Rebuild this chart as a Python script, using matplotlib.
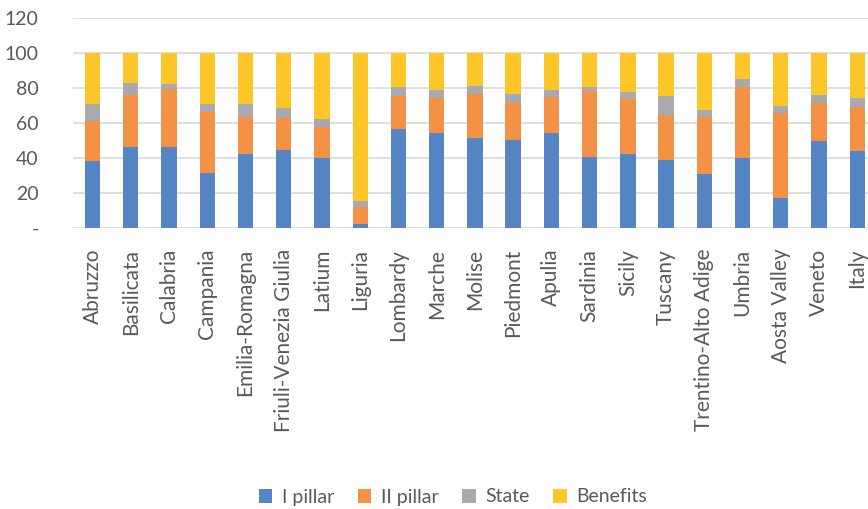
import matplotlib
matplotlib.use("Agg")
import matplotlib.pyplot as plt
import numpy as np

regions = ["Abruzzo", "Basilicata", "Calabria", "Campania", "Emilia-Romagna",
           "Friuli-Venezia Giulia", "Latium", "Liguria", "Lombardy", "Marche",
           "Molise", "Piedmont", "Apulia", "Sardinia", "Sicily", "Tuscany",
           "Trentino-Alto Adige", "Umbria", "Aosta Valley", "Veneto", "Italy"]

# shares per region (percent), stacked to 100
pillar1 = [38.4, 46.2, 46.2, 31.5, 42.6, 44.7, 39.9, 2.5, 56.5, 54.6, 51.3,
           50.2, 54.6, 40.8, 42.2, 38.9, 31.1, 39.9, 17.2, 49.8, 44.3]
pillar2 = [22.9, 29.9, 33.4, 34.9, 20.9, 18.1, 18.1, 9.5, 19.1, 20.0, 25.4,
           21.4, 20.2, 37.6, 31.7, 25.6, 32.6, 41.0, 48.6, 21.8, 24.8]
state = [9.5, 7.1, 2.8, 4.8, 7.7, 6.1, 4.4, 3.5, 5.3, 4.6, 4.8,
         5.3, 4.0, 2.5, 4.2, 11.1, 4.0, 4.4, 3.9, 4.5, 5.3]
benefits = [100 - a - b - c for a, b, c in zip(pillar1, pillar2, state)]

series = [("I pillar", pillar1, "#5585C5"),
          ("II pillar", pillar2, "#F59145"),
          ("State", state, "#A8AAAD"),
          ("Benefits", benefits, "#FFC629")]

plt.rcParams["font.family"] = ["Lato", "DejaVu Sans"]

fig = plt.figure(figsize=(8.68, 5.09), dpi=100)
ax = fig.add_axes([73.4 / 868, 1 - 228 / 509, 803 / 868, 209.7 / 509])

x = np.arange(len(regions))
bottom = np.zeros(len(regions))
for name, vals, col in series:
    vals = np.array(vals)
    ax.bar(x, vals, 0.4, bottom=bottom, color=col, label=name, zorder=3)
    bottom += vals

ax.set_xlim(-0.5, len(regions) - 0.5)
ax.set_ylim(0, 120)
ax.set_yticks(range(0, 121, 20))
ax.set_yticklabels(["-"] + [str(v) for v in range(20, 121, 20)])
ax.set_xticks(x)
ax.set_xticklabels(regions, rotation=90)
ax.yaxis.grid(True, color="#D9D9D9", linewidth=1.2, zorder=0)
for s in ax.spines.values():
    s.set_visible(False)
ax.tick_params(axis="both", length=0, colors="#595959")
ax.tick_params(axis="y", pad=25, labelsize=14)
ax.tick_params(axis="x", pad=15, labelsize=15)

fig.legend(loc="center", bbox_to_anchor=(453 / 868, 1 - 497 / 509), ncol=4,
           frameon=False, fontsize=14, handlelength=0.7, handleheight=0.7,
           columnspacing=1.2, handletextpad=0.5, labelcolor="#595959")

fig.savefig("out.png", dpi=100)
